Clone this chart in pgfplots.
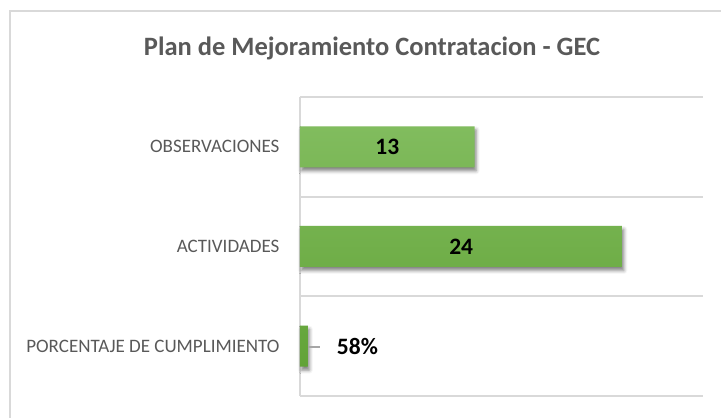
\documentclass[border=0pt]{standalone}
\usepackage{pgfplots}
\pgfplotsset{compat=1.18}
\usepackage{fontspec}
\setmainfont{Carlito}
\usetikzlibrary{shadows.blur}
\definecolor{gridgray}{RGB}{217,217,217}
\definecolor{txtgray}{RGB}{89,89,89}
\definecolor{gtop}{RGB}{129,188,94}
\definecolor{gbot}{RGB}{98,163,55}
\definecolor{leadgray}{RGB}{166,166,166}
\begin{document}
\begin{tikzpicture}
\useasboundingbox (0,0) rectangle (721pt,418pt);
\begin{scope}
\clip (0,0) rectangle (721pt,418pt);
\draw[gridgray, line width=2pt] (10pt,-20pt) -- (10pt,407pt) -- (740pt,407pt);
\end{scope}
\node[anchor=base, text=txtgray, font=\fontsize{26.5}{30}\selectfont\bfseries] at (372pt,362pt) {Plan de Mejoramiento Contratacion - GEC};
\begin{axis}[
 at={(300pt,22pt)}, anchor=south west,
 scale only axis, width=403pt, height=299pt,
 xbar,
 xmin=0, xmax=30, ymin=0.5, ymax=3.5,
 axis x line=none, axis y line*=left,
 y axis line style={draw=gridgray, line width=2pt},
 ytick={1,2,3},
 yticklabels={PORCENTAJE DE CUMPLIMIENTO, ACTIVIDADES, OBSERVACIONES},
 major tick length=0pt,
 yticklabel style={text=txtgray, font=\fontsize{19}{21}\selectfont, xshift=-17pt},
 extra y ticks={0.5,1.5,2.5,3.5},
 extra y tick labels={},
 extra y tick style={grid=major, major grid style={draw=gridgray, line width=2pt}},
 clip=false,
]
\addplot[xbar, bar shift=0pt, bar width=41pt, draw=none, top color=gtop, bottom color=gbot,
  blur shadow={shadow xshift=1.5pt, shadow yshift=-3.5pt, shadow blur radius=3.5pt, shadow opacity=50}]
  coordinates {(13,3) (24,2) (0.58,1)};
\addplot[xbar, bar shift=0pt, bar width=41pt, draw=none, fill=none,
  point meta=explicit symbolic,
  visualization depends on={rawx \as \rx},
  nodes near coords={\pgfplotspointmeta},
  every node near coord/.append style={anchor=center, xshift={-6.7167pt*\rx}, font=\fontsize{23.5}{25}\selectfont\bfseries, text=black}]
  coordinates {(13,3) [13] (24,2) [24]};
\addplot[xbar, bar shift=0pt, bar width=41pt, draw=none, fill=none,
  point meta=explicit symbolic,
  nodes near coords={\textcolor{leadgray}{\rule[6.6pt]{12pt}{1.3pt}}\hspace{17pt}\pgfplotspointmeta},
  every node near coord/.append style={anchor=west, inner sep=0pt, font=\fontsize{23.5}{25}\selectfont\bfseries, text=black}]
  coordinates {(0.58,1) [58\%]};
\end{axis}
\end{tikzpicture}
\end{document}
